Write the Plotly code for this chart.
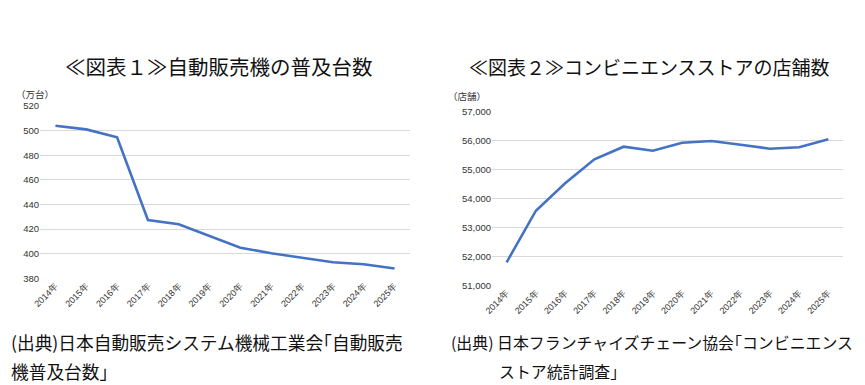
import plotly.graph_objects as go

years = ["2014年", "2015年", "2016年", "2017年", "2018年", "2019年",
         "2020年", "2021年", "2022年", "2023年", "2024年", "2025年"]
vending = [504, 501, 494.6, 427.4, 423.9, 414.4, 404.9, 400.3, 396.5, 393, 391.4, 388]
stores = [51793, 53572, 54517, 55345, 55779, 55641, 55917, 55976, 55848, 55710, 55759, 56040]

title1 = "≪図表１≫自動販売機の普及台数"
title2 = "≪図表２≫コンビニエンスストアの店舗数"
unit1 = "（万台）"
unit2 = "（店舗）"
src1_l1 = "(出典)日本自動販売システム機械工業会｢自動販売"
src1_l2 = "機普及台数｣"
src2_l1 = "(出典) 日本フランチャイズチェーン協会｢コンビニエンス"
src2_l2 = "ストア統計調査｣"

# The page body has an 8px margin; the figure is sized and positioned so the
# photographed window (865x385) matches the reference.
OFF = 8
W, H = 865 - OFF, 385 - OFF
JP = "Noto Sans CJK JP"
LINE = "#4472C4"
GRID = "#d9d9d9"

fig = go.Figure()
fig.add_trace(go.Scatter(x=years, y=vending, mode="lines",
                         line=dict(color=LINE, width=2.6), xaxis="x", yaxis="y",
                         showlegend=False))
fig.add_trace(go.Scatter(x=years, y=stores, mode="lines",
                         line=dict(color=LINE, width=2.6), xaxis="x2", yaxis="y2",
                         showlegend=False))

def px(x):
    return (x - OFF) / W

def py(y):
    return (H - (y - OFF)) / H

tickfont = dict(family="Liberation Sans, Arial", size=9.5, color="#333333")
xtickfont = dict(family="Liberation Sans, Arial", size=9, color="#333333")
xcommon = dict(type="category", range=[-0.5, 11.5], tickangle=-45, showgrid=False,
               showline=False, zeroline=False, tickfont=xtickfont, ticks="",
               automargin=False)
ycommon = dict(showgrid=True, gridcolor=GRID, gridwidth=1, zeroline=False,
               showline=False, tickfont=tickfont, ticks="", automargin=False)

fig.update_layout(
    width=W, height=H,
    margin=dict(l=0, r=0, t=0, b=0),
    paper_bgcolor="white", plot_bgcolor="white",
    xaxis=dict(domain=[px(40), px(410)], anchor="y", **xcommon),
    yaxis=dict(domain=[py(278.3), py(106)], anchor="x", range=[380, 520],
               dtick=20, **ycommon),
    xaxis2=dict(domain=[px(492), px(843)], anchor="y2", **xcommon),
    yaxis2=dict(domain=[py(285.3), py(111.3)], anchor="x2", range=[51000, 57000],
                dtick=1000, tickformat=",", **ycommon),
)

anns = [
    dict(text=title1, x=px(219), y=py(66), font=dict(family=JP, size=20.5, color="#111111")),
    dict(text=title2, x=px(649), y=py(66), font=dict(family=JP, size=19, color="#111111")),
    dict(text=unit1, x=px(14), y=py(94), xanchor="left",
         font=dict(family=JP, size=9.5, color="#333333")),
    dict(text=unit2, x=px(446), y=py(96), xanchor="left",
         font=dict(family=JP, size=9.5, color="#333333")),
    dict(text=src1_l1, x=px(8.5), y=py(342), xanchor="left",
         font=dict(family=JP, size=17.7, color="#111111")),
    dict(text=src1_l2, x=px(9), y=py(371), xanchor="left",
         font=dict(family=JP, size=17.7, color="#111111")),
    dict(text=src2_l1, x=px(449), y=py(342), xanchor="left",
         font=dict(family=JP, size=15.9, color="#111111")),
    dict(text=src2_l2, x=px(497), y=py(371), xanchor="left",
         font=dict(family=JP, size=15.9, color="#111111")),
]
for a in anns:
    a.setdefault("xanchor", "center")
    a.setdefault("yanchor", "middle")
    fig.add_annotation(xref="paper", yref="paper", showarrow=False, **a)

fig.write_html("out.html")
